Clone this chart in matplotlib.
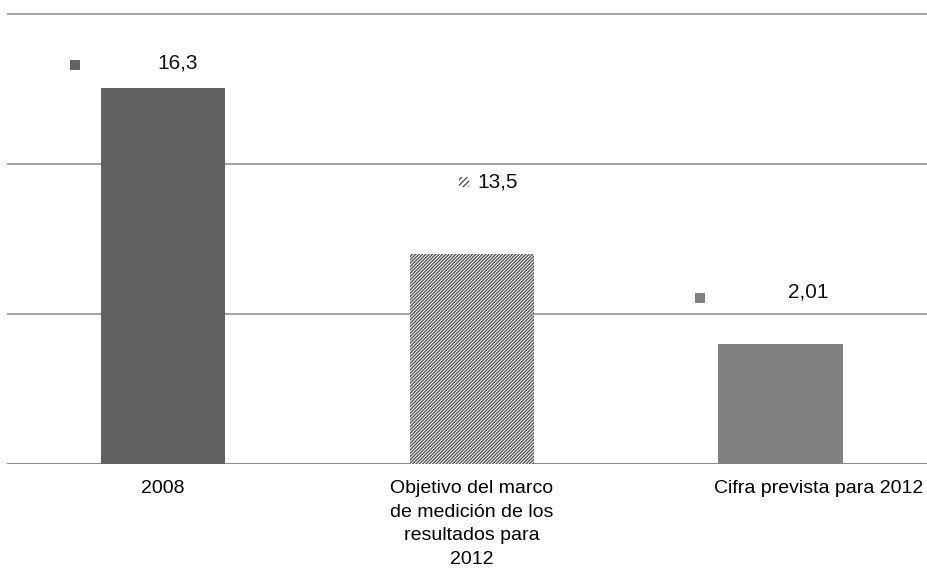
import matplotlib
matplotlib.use("Agg")
import matplotlib.pyplot as plt
import matplotlib.patches as mpatches
from matplotlib.transforms import ScaledTranslation

categories = ["2008",
              "Objetivo del marco\nde medición de los\nresultados para\n2012",
              "Cifra prevista para 2012"]
bar_heights = [2.51, 1.40, 0.80]       # heights as drawn (gridline units)
value_labels = ["16,3", "13,5", "2,01"]  # printed data labels
grid_levels = [0, 1, 2, 3]

bar_colors = ["#626262", "white", "#818181"]
bar_hatches = [None, "//////////", None]

plt.rcParams["font.family"] = ["Liberation Sans", "DejaVu Sans"]
plt.rcParams["hatch.linewidth"] = 1.0
plt.rcParams["hatch.color"] = "#555555"

fig = plt.figure(figsize=(9.27, 5.72), dpi=100)
ax = fig.add_axes([7 / 927, 108.3 / 572, 920 / 927, 456.7 / 572])

x = list(range(len(categories)))
bars = ax.bar(x, bar_heights, width=0.403, color=bar_colors,
              edgecolor="none", zorder=3)
for b, h in zip(bars, bar_hatches):
    if h:
        b.set_hatch(h)
        b.set_edgecolor("#555555")
        b.set_linewidth(0)

ax.set_xlim(-0.506, 2.474)
ax.set_ylim(0, 3.05)
for g in grid_levels:
    ax.axhline(g, color="#8c8c8c" if g == 0 else "#a3a3a3", lw=1.4, zorder=1)

for s in ax.spines.values():
    s.set_visible(False)
ax.set_yticks([])
ax.set_xticks(x)
ax.set_xticklabels(categories, fontsize=14, linespacing=1.5)
ax.tick_params(axis="x", length=0, pad=12)
# the third label sits right of its bar in the original
lab = ax.get_xticklabels()[2]
lab.set_transform(lab.get_transform() + ScaledTranslation(38 / 100, 0, fig.dpi_scale_trans))

# data labels with small legend-key squares
label_offsets = [(14, 25), (26, 72), (28, 52)]
key_offsets = [(-88, 23), (-8, 72), (-81, 46)]
for i, (b, txt) in enumerate(zip(bars, value_labels)):
    cx = b.get_x() + b.get_width() / 2
    ax.annotate(txt, xy=(cx, b.get_height()), xytext=label_offsets[i],
                textcoords="offset pixels", ha="center", va="center",
                fontsize=15, color="#111111")
    dx, dy = key_offsets[i]
    px, py = ax.transData.transform((cx, b.get_height()))
    sq = mpatches.Rectangle((px + dx - 5, py + dy - 5), 10, 10,
                            transform=None, facecolor=bar_colors[i] if i != 1 else "white",
                            edgecolor="#555555" if i == 1 else "none",
                            linewidth=0, hatch="//////" if i == 1 else None)
    fig.patches.append(sq)

fig.savefig("out.png", dpi=100)
